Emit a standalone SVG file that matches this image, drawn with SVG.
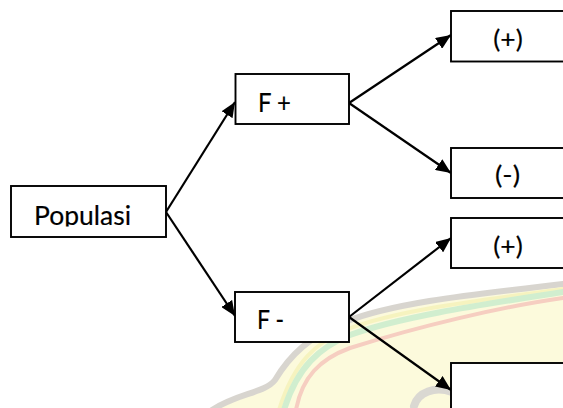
<svg xmlns="http://www.w3.org/2000/svg" width="563" height="408" viewBox="0 0 563 408">
<style>
.box{fill:#fff;stroke:#000;stroke-width:1.9}
.lbl{font-family:Lato,"Open Sans",sans-serif;font-size:27.5px;fill:#000;stroke:#000;stroke-width:0.2}
.par{font-size:25px}
.con{stroke:#000;stroke-width:2.2;fill:none;marker-end:url(#ah)}
.wm{fill:none;stroke-linecap:round}
</style>
<defs>
<marker id="ah" markerWidth="15" markerHeight="13" refX="15" refY="6.5" orient="auto" markerUnits="userSpaceOnUse"><path d="M0,0 L15,6.5 L0,13 z" fill="#000"/></marker>
<clipPath id="cPop"><rect x="0" y="180" width="170" height="46.5"/></clipPath>
</defs>
<rect width="563" height="408" fill="#fff"/>
<g id="watermark" opacity="0.8">
<path d="M563 283 C500 292 400 300 345 322 C310 336 290 355 275 380 C265 392 240 392 212 408 L563 408 Z" fill="#fcf9d4" stroke="none"/>
<path class="wm" d="M563 284 C500 292 400 300 345 322 C310 336 290 355 275 380 C265 393 238 393 212 410" stroke="#cfcbc4" stroke-width="6"/>
<path class="wm" d="M563 289 C500 298 402 308 348 329 C316 342 294 362 279 410" stroke="#f5f1b0" stroke-width="4"/>
<path class="wm" d="M563 292 C500 302 405 315 350 335 C320 347 297 367 284 410" stroke="#c6ebc4" stroke-width="6"/>
<path class="wm" d="M563 298 C500 307 420 326 350 348 C320 359 302 377 296 410" stroke="#f4c2b2" stroke-width="4"/>
<path class="wm" d="M414 406 C418 392 435 386 452 392" stroke="#d2cfc8" stroke-width="8"/>
</g>
<g id="connectors">
<line class="con" x1="166" y1="212" x2="235" y2="102"/>
<line class="con" x1="166" y1="212" x2="235" y2="316"/>
<line class="con" x1="349" y1="103" x2="451" y2="35"/>
<line class="con" x1="349" y1="103" x2="451" y2="173"/>
<line class="con" x1="349" y1="317" x2="451" y2="238"/>
<line class="con" x1="349" y1="317" x2="451" y2="390"/>
</g>
<g id="populasi">
<rect class="box" x="11" y="186" width="155" height="51"/>
<text class="lbl" x="34" y="225" textLength="97" lengthAdjust="spacingAndGlyphs" clip-path="url(#cPop)">Populasi</text>
</g>
<g id="fplus">
<rect class="box" x="235.5" y="74" width="113.5" height="50"/>
<text class="lbl" x="258" y="111.7" textLength="33" lengthAdjust="spacingAndGlyphs">F +</text>
</g>
<g id="fminus">
<rect class="box" x="235" y="292" width="114" height="50"/>
<text class="lbl" x="257" y="329.3" textLength="27" lengthAdjust="spacingAndGlyphs">F -</text>
</g>
<g id="pos1">
<rect class="box" x="451" y="11" width="120" height="50.5"/>
<text class="lbl par" x="493.3" y="47.5" textLength="29.5" lengthAdjust="spacingAndGlyphs">(+)</text>
</g>
<g id="neg1">
<rect class="box" x="451" y="148" width="120" height="50"/>
<text class="lbl par" x="495" y="184" textLength="25" lengthAdjust="spacingAndGlyphs">(-)</text>
</g>
<g id="pos2">
<rect class="box" x="451" y="218" width="120" height="50"/>
<text class="lbl par" x="493.3" y="254.5" textLength="29.5" lengthAdjust="spacingAndGlyphs">(+)</text>
</g>
<g id="neg2">
<rect class="box" x="451" y="363" width="120" height="60"/>
</g>
</svg>
